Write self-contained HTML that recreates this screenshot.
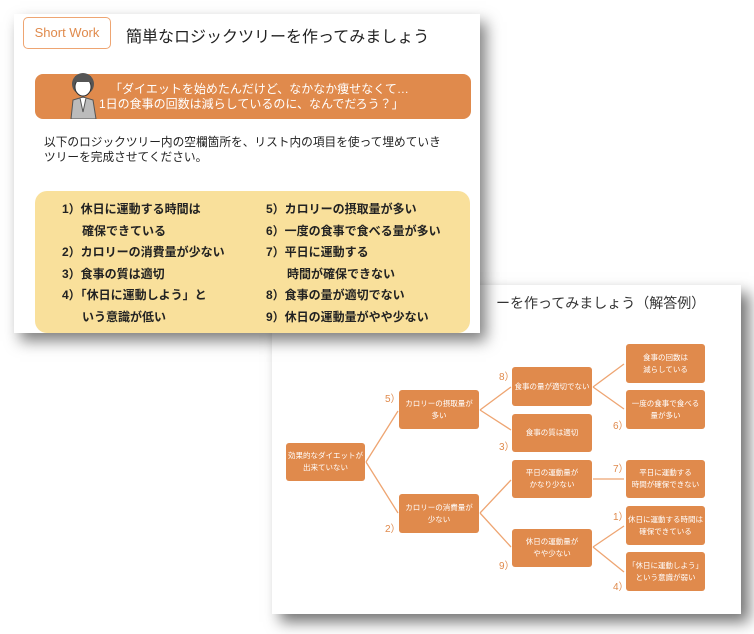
<!DOCTYPE html>
<html><head><meta charset="utf-8"><style>
body{margin:0;width:754px;height:634px;background:#fff;position:relative;overflow:hidden;font-family:"Liberation Sans","Noto Sans CJK JP",sans-serif;}
.s{position:absolute;background:#fff;}
.n{position:absolute;background:#e08a4c;border-radius:3px;color:#fff;font-size:7.5px;display:flex;align-items:center;justify-content:center;text-align:center;line-height:12px;}
.lb{position:absolute;color:#e08a4c;font-size:10px;}
.it{position:absolute;font-size:12px;font-weight:bold;color:#222;}
</style></head><body>
<div class="s" style="left:272px;top:285px;width:469px;height:329px;box-shadow:8px 8px 14px rgba(0,0,0,.55);">
</div>
<div style="position:absolute;left:496px;top:293px;font-size:14px;color:#333;white-space:nowrap;">ーを作ってみましょう（解答例）</div>
<svg style="position:absolute;left:0;top:0" width="754" height="634">
<g stroke="#eea572" stroke-width="1.3" fill="none">
<path d="M366 462 L398 411 M366 462 L398 513"/>
<path d="M480 410 L511 387 M480 410 L511 430"/>
<path d="M480 513 L511 480 M480 513 L511 547"/>
<path d="M593 387 L624 364 M593 387 L624 409"/>
<path d="M593 479 L624 479"/>
<path d="M593 547 L624 526 M593 547 L624 572"/>
</g></svg>
<div class="n" style="left:286px;top:443px;width:79px;height:38px;">効果的なダイエットが<br>出来ていない</div>
<div class="n" style="left:399px;top:390px;width:80px;height:39px;">カロリーの摂取量が<br>多い</div>
<div class="n" style="left:399px;top:494px;width:80px;height:39px;">カロリーの消費量が<br>少ない</div>
<div class="n" style="left:512px;top:367px;width:80px;height:39px;">食事の量が適切でない</div>
<div class="n" style="left:512px;top:414px;width:80px;height:38px;">食事の質は適切</div>
<div class="n" style="left:512px;top:460px;width:80px;height:38px;">平日の運動量が<br>かなり少ない</div>
<div class="n" style="left:512px;top:529px;width:80px;height:38px;">休日の運動量が<br>やや少ない</div>
<div class="n" style="left:626px;top:344px;width:79px;height:39px;">食事の回数は<br>減らしている</div>
<div class="n" style="left:626px;top:390px;width:79px;height:39px;">一度の食事で食べる<br>量が多い</div>
<div class="n" style="left:626px;top:460px;width:79px;height:38px;">平日に運動する<br>時間が確保できない</div>
<div class="n" style="left:626px;top:506px;width:79px;height:39px;">休日に運動する時間は<br>確保できている</div>
<div class="n" style="left:626px;top:552px;width:79px;height:39px;">「休日に運動しよう」<br>という意識が弱い</div>
<div class="lb" style="left:385px;top:390px;">5）</div>
<div class="lb" style="left:385px;top:520px;">2）</div>
<div class="lb" style="left:499px;top:368px;">8）</div>
<div class="lb" style="left:499px;top:438px;">3）</div>
<div class="lb" style="left:499px;top:557px;">9）</div>
<div class="lb" style="left:613px;top:417px;">6）</div>
<div class="lb" style="left:613px;top:460px;">7）</div>
<div class="lb" style="left:613px;top:508px;">1）</div>
<div class="lb" style="left:613px;top:578px;">4）</div>

<div class="s" style="left:14px;top:14px;width:466px;height:319px;box-shadow:6px 8px 14px rgba(0,0,0,.5);">
 <div style="position:absolute;left:9px;top:3px;width:86px;height:30px;border:1.5px solid #eea572;border-radius:5px;color:#e08a4c;font-size:13px;line-height:30px;text-align:center;">Short Work</div>
 <div style="position:absolute;left:112px;top:9px;font-size:16px;color:#222;">簡単なロジックツリーを作ってみましょう</div>
 <div style="position:absolute;left:21px;top:60px;width:436px;height:45px;background:#e08a4c;border-radius:8px;color:#fff;font-size:12px;line-height:15px;white-space:nowrap;">
  <div style="position:absolute;left:75px;top:8px;">「ダイエットを始めたんだけど、なかなか痩せなくて…</div>
  <div style="position:absolute;left:64px;top:23px;">1日の食事の回数は減らしているのに、なんでだろう？」</div>
  <svg style="position:absolute;left:35px;top:-2px" width="28" height="47"><circle cx="13" cy="12" r="11" fill="#555"/><ellipse cx="13" cy="15" rx="8" ry="9" fill="#fff" stroke="#333"/><rect x="5" y="4" width="16" height="6" fill="#555"/><path d="M1 47 L3 28 L13 25 L23 28 L26 47Z" fill="#bbb" stroke="#555"/><path d="M10 26 L13 40 L16 26" fill="#fff" stroke="#555"/></svg>
 </div>
 <div style="position:absolute;left:30px;top:121px;font-size:11.7px;line-height:15px;color:#222;white-space:nowrap;">以下のロジックツリー内の空欄箇所を、リスト内の項目を使って埋めていき<br>ツリーを完成させてください。</div>
 <div style="position:absolute;left:21px;top:177px;width:435px;height:142px;background:#f9e09b;border-radius:12px;"></div>
</div>
<div class="it" style="left:62px;top:200px;">1）休日に運動する時間は</div>
<div class="it" style="left:82px;top:222px;">確保できている</div>
<div class="it" style="left:62px;top:243px;">2）カロリーの消費量が少ない</div>
<div class="it" style="left:62px;top:265px;">3）食事の質は適切</div>
<div class="it" style="left:62px;top:286px;">4）「休日に運動しよう」と</div>
<div class="it" style="left:82px;top:308px;">いう意識が低い</div>
<div class="it" style="left:266px;top:200px;">5）カロリーの摂取量が多い</div>
<div class="it" style="left:266px;top:222px;">6）一度の食事で食べる量が多い</div>
<div class="it" style="left:266px;top:243px;">7）平日に運動する</div>
<div class="it" style="left:287px;top:265px;">時間が確保できない</div>
<div class="it" style="left:266px;top:286px;">8）食事の量が適切でない</div>
<div class="it" style="left:266px;top:308px;">9）休日の運動量がやや少ない</div>
</body></html>
